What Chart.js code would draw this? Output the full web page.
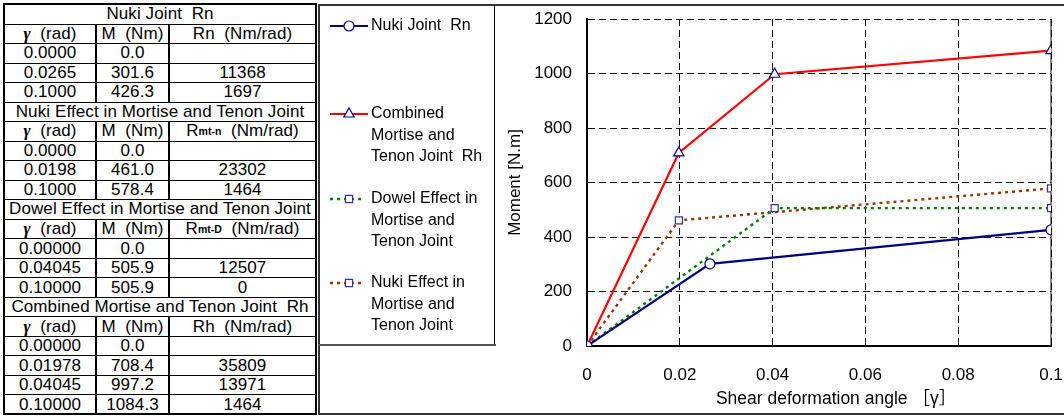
<!DOCTYPE html>
<html><head><meta charset="utf-8">
<script src="https://cdn.jsdelivr.net/npm/chart.js@4"></script>
<style>
html,body{margin:0;padding:0;background:#fff;}
body{width:1064px;height:416px;position:relative;overflow:hidden;font-family:"Liberation Sans",Arial,sans-serif;color:#000;}
.cell{position:absolute;display:flex;align-items:center;justify-content:center;font-size:17px;letter-spacing:0.1px;white-space:pre;line-height:1;}
.ln{position:absolute;background:#000;}
.g{font-family:"Liberation Serif",serif;font-weight:bold;font-style:italic;}
sub{font-size:10.5px;font-weight:bold;vertical-align:-3px;line-height:0;letter-spacing:0;}
#c{position:absolute;left:318px;top:0;}
</style></head><body>
<div id="tbl"></div>
<canvas id="c" width="746" height="416"></canvas>
<script>
// ---------- data ----------
const nukiGamma  = [0, 0.0265, 0.1];
const nukiM      = [0, 301.6, 426.3];
const nukiR      = [null, 11368, 1697];
const effGamma   = [0, 0.0198, 0.1];
const effM       = [0, 461.0, 578.4];
const effR       = [null, 23302, 1464];
const dowelGamma = [0, 0.04045, 0.1];
const dowelM     = [0, 505.9, 505.9];
const dowelR     = [null, 12507, 0];
const combGamma  = [0, 0.01978, 0.04045, 0.1];
const combM      = [0, 708.4, 997.2, 1084.3];
const combR      = [null, 35809, 13971, 1464];

const sectionTitles = ['Nuki Joint\u00a0\u00a0Rn', 'Nuki Effect in Mortise and Tenon Joint',
                       'Dowel Effect in Mortise and Tenon Joint', 'Combined Mortise and Tenon Joint\u00a0\u00a0Rh'];
const rHeaders = ['Rn\u00a0\u00a0(Nm/rad)', 'R<sub>mt-n</sub>\u00a0\u00a0(Nm/rad)',
                  'R<sub>mt-D</sub>\u00a0\u00a0(Nm/rad)', 'Rh\u00a0\u00a0(Nm/rad)'];
const gammaDecimals = [4, 4, 5, 5];

const xTicks = [0, 0.02, 0.04, 0.06, 0.08, 0.1];
const xTickLabels = ['0', '0.02', '0.04', '0.06', '0.08', '0.1'];
const yTicks = [0, 200, 400, 600, 800, 1000, 1200];
const yTickLabels = ['0', '200', '400', '600', '800', '1000', '1200'];

const seriesNames = [['Nuki Joint\u00a0\u00a0Rn'], ['Combined', 'Mortise and', 'Tenon Joint\u00a0\u00a0Rh'],
                     ['Dowel Effect in', 'Mortise and', 'Tenon Joint'], ['Nuki Effect in', 'Mortise and', 'Tenon Joint']];

// ---------- table ----------
(function(){
  const tbl = document.getElementById('tbl');
  const TOP = 4, BOT = 414, LEFT = 4, RIGHT = 316;
  const colX = [LEFT, 96, 169, RIGHT];
  const sections = [
    [nukiGamma, nukiM, nukiR], [effGamma, effM, effR],
    [dowelGamma, dowelM, dowelR], [combGamma, combM, combR]
  ];
  const rows = [];
  sections.forEach((s, k) => {
    rows.push({title: sectionTitles[k]});
    rows.push({cells: ['<span class="g">γ</span>\u00a0\u00a0(rad)', 'M\u00a0\u00a0(Nm)', rHeaders[k]]});
    s[0].forEach((g, i) => {
      rows.push({cells: [g.toFixed(gammaDecimals[k]), s[1][i].toFixed(1), s[2][i] === null ? '' : String(s[2][i])]});
    });
  });
  const h = (BOT - TOP) / rows.length;
  let html = '';
  rows.forEach((r, i) => {
    const y0 = TOP + i * h;
    if (r.title) {
      html += `<div class="cell" style="left:${LEFT}px;top:${y0}px;width:${RIGHT-LEFT}px;height:${h}px">${r.title}</div>`;
    } else {
      r.cells.forEach((c, j) => {
        html += `<div class="cell" style="left:${colX[j]}px;top:${y0}px;width:${colX[j+1]-colX[j]}px;height:${h}px">${c}</div>`;
      });
      html += `<div class="ln" style="left:95px;top:${y0}px;width:2px;height:${h+1}px"></div>`;
      html += `<div class="ln" style="left:168px;top:${y0}px;width:2px;height:${h+1}px"></div>`;
    }
    if (i > 0) html += `<div class="ln" style="left:${LEFT}px;top:${Math.round(y0)}px;width:${RIGHT-LEFT}px;height:1px"></div>`;
  });
  html += `<div style="position:absolute;left:${LEFT-1}px;top:${TOP-1}px;width:${RIGHT-LEFT-2}px;height:${BOT-TOP-2}px;border:2px solid #000"></div>`;
  tbl.innerHTML = html;
})();

// ---------- chart ----------
const FONT = "'Liberation Sans', Arial, 'Noto Sans CJK JP', sans-serif";
const pts = (xs, ys) => xs.map((x, i) => ({x: x, y: ys[i]}));

const framePlugin = {
  id: 'frame',
  beforeDraw(chart) {
    const c = chart.ctx, a = chart.chartArea;
    c.save();
    c.fillStyle = '#333';
    c.fillRect(0, 4, chart.width, 2);     // top frame
    c.fillRect(0, 413, chart.width, 2);   // bottom frame
    c.fillRect(0, 4, 2, 411);             // left frame
    c.fillStyle = '#000';
    c.fillRect(176, 5, 1, 340);           // legend right
    c.fillStyle = '#555';
    c.fillRect(0, 344, 178, 2);           // legend bottom
    c.strokeStyle = '#888'; c.lineWidth = 2;
    c.beginPath(); c.moveTo(a.right, a.top); c.lineTo(a.right, a.bottom); c.stroke();
    c.restore();
  },
  afterDraw(chart) {
    const c = chart.ctx;
    const ys = [26, 114, 199, 283];
    c.save();
    chart.data.datasets.forEach((ds, i) => {
      const y = ys[i];
      c.strokeStyle = ds.borderColor; c.lineWidth = ds.borderWidth;
      c.setLineDash(ds.borderDash || []);
      c.beginPath(); c.moveTo(12, y); c.lineTo(ds.borderDash ? 45 : 50, y); c.stroke();
      c.setLineDash([]);
      c.fillStyle = '#fff'; c.strokeStyle = ds.pointBorderColor; c.lineWidth = ds.pointBorderWidth;
      Chart.helpers.drawPoint(c, {pointStyle: ds.pointStyle, radius: ds.pointRadius, borderWidth: ds.pointBorderWidth, rotation: 0}, 31, y);
      c.fillStyle = '#000'; c.font = '16px ' + FONT; c.textBaseline = 'middle'; c.textAlign = 'left';
      seriesNames[i].forEach((t, k) => c.fillText(t, 53, y + k * 21.5));
    });
    c.restore();
  }
};

new Chart(document.getElementById('c'), {
  type: 'scatter',
  data: {
    datasets: [
      {label: 'Nuki Joint Rn', data: pts(nukiGamma, nukiM), showLine: true,
       borderColor: '#000080', borderWidth: 2.2, pointStyle: 'circle', pointRadius: 5,
       pointBackgroundColor: '#fff', pointBorderColor: '#000080', pointBorderWidth: 1.2},
      {label: 'Combined Mortise and Tenon Joint Rh', data: pts(combGamma, combM), showLine: true,
       borderColor: '#ff0000', borderWidth: 2.2, pointStyle: 'triangle', pointRadius: 6,
       pointBackgroundColor: '#fff', pointBorderColor: '#000080', pointBorderWidth: 1.2},
      {label: 'Dowel Effect in Mortise and Tenon Joint', data: pts(dowelGamma, dowelM), showLine: true,
       borderColor: '#008000', borderWidth: 2.4, borderDash: [3, 4], pointStyle: 'rect', pointRadius: 5,
       pointBackgroundColor: '#fff', pointBorderColor: '#333399', pointBorderWidth: 1.2},
      {label: 'Nuki Effect in Mortise and Tenon Joint', data: pts(effGamma, effM), showLine: true,
       borderColor: '#993300', borderWidth: 2.4, borderDash: [3, 4], pointStyle: 'rect', pointRadius: 5,
       pointBackgroundColor: '#fff', pointBorderColor: '#333399', pointBorderWidth: 1.2}
    ]
  },
  options: {
    responsive: false, animation: false, devicePixelRatio: 1,
    layout: {padding: {left: 0, right: 13, top: 19, bottom: 0}},
    plugins: {legend: {display: false}, tooltip: {enabled: false}},
    scales: {
      x: {
        type: 'linear', min: 0, max: 0.1,
        afterBuildTicks: ax => { ax.ticks = xTicks.map(v => ({value: v})); },
        afterFit: ax => { ax.height = 70; ax.paddingLeft = 0; ax.paddingRight = 0; ax.paddingTop = 0; ax.paddingBottom = 0; },
        ticks: {callback: (v, i) => xTickLabels[i], font: {family: FONT, size: 17}, color: '#000', padding: 19, maxRotation: 0, autoSkip: false},
        grid: {color: '#111', lineWidth: 1, drawTicks: false},
        border: {display: true, color: '#000', width: 2, dash: [7, 4]},
        title: {display: true, text: '\u00a0\u00a0\u00a0\u00a0\u00a0\u00a0\u00a0Shear deformation angle ［γ］', font: {family: FONT, size: 17.5}, color: '#000', padding: {top: 0, bottom: 6}}
      },
      y: {
        type: 'linear', min: 0, max: 1200,
        afterBuildTicks: ax => { ax.ticks = yTicks.map(v => ({value: v})); },
        afterFit: ax => { ax.width = 269; ax.paddingLeft = 0; ax.paddingRight = 0; ax.paddingTop = 0; ax.paddingBottom = 0; },
        ticks: {callback: (v, i) => yTickLabels[i], font: {family: FONT, size: 17}, color: '#000', padding: 15},
        grid: {color: '#111', lineWidth: 1, drawTicks: false},
        border: {display: true, color: '#000', width: 2, dash: [7, 4]},
        title: {display: true, text: 'Moment [N.m]', font: {family: FONT, size: 17}, color: '#000', padding: {top: 187, bottom: 0}}
      }
    }
  },
  plugins: [framePlugin]
});
</script>
</body></html>
